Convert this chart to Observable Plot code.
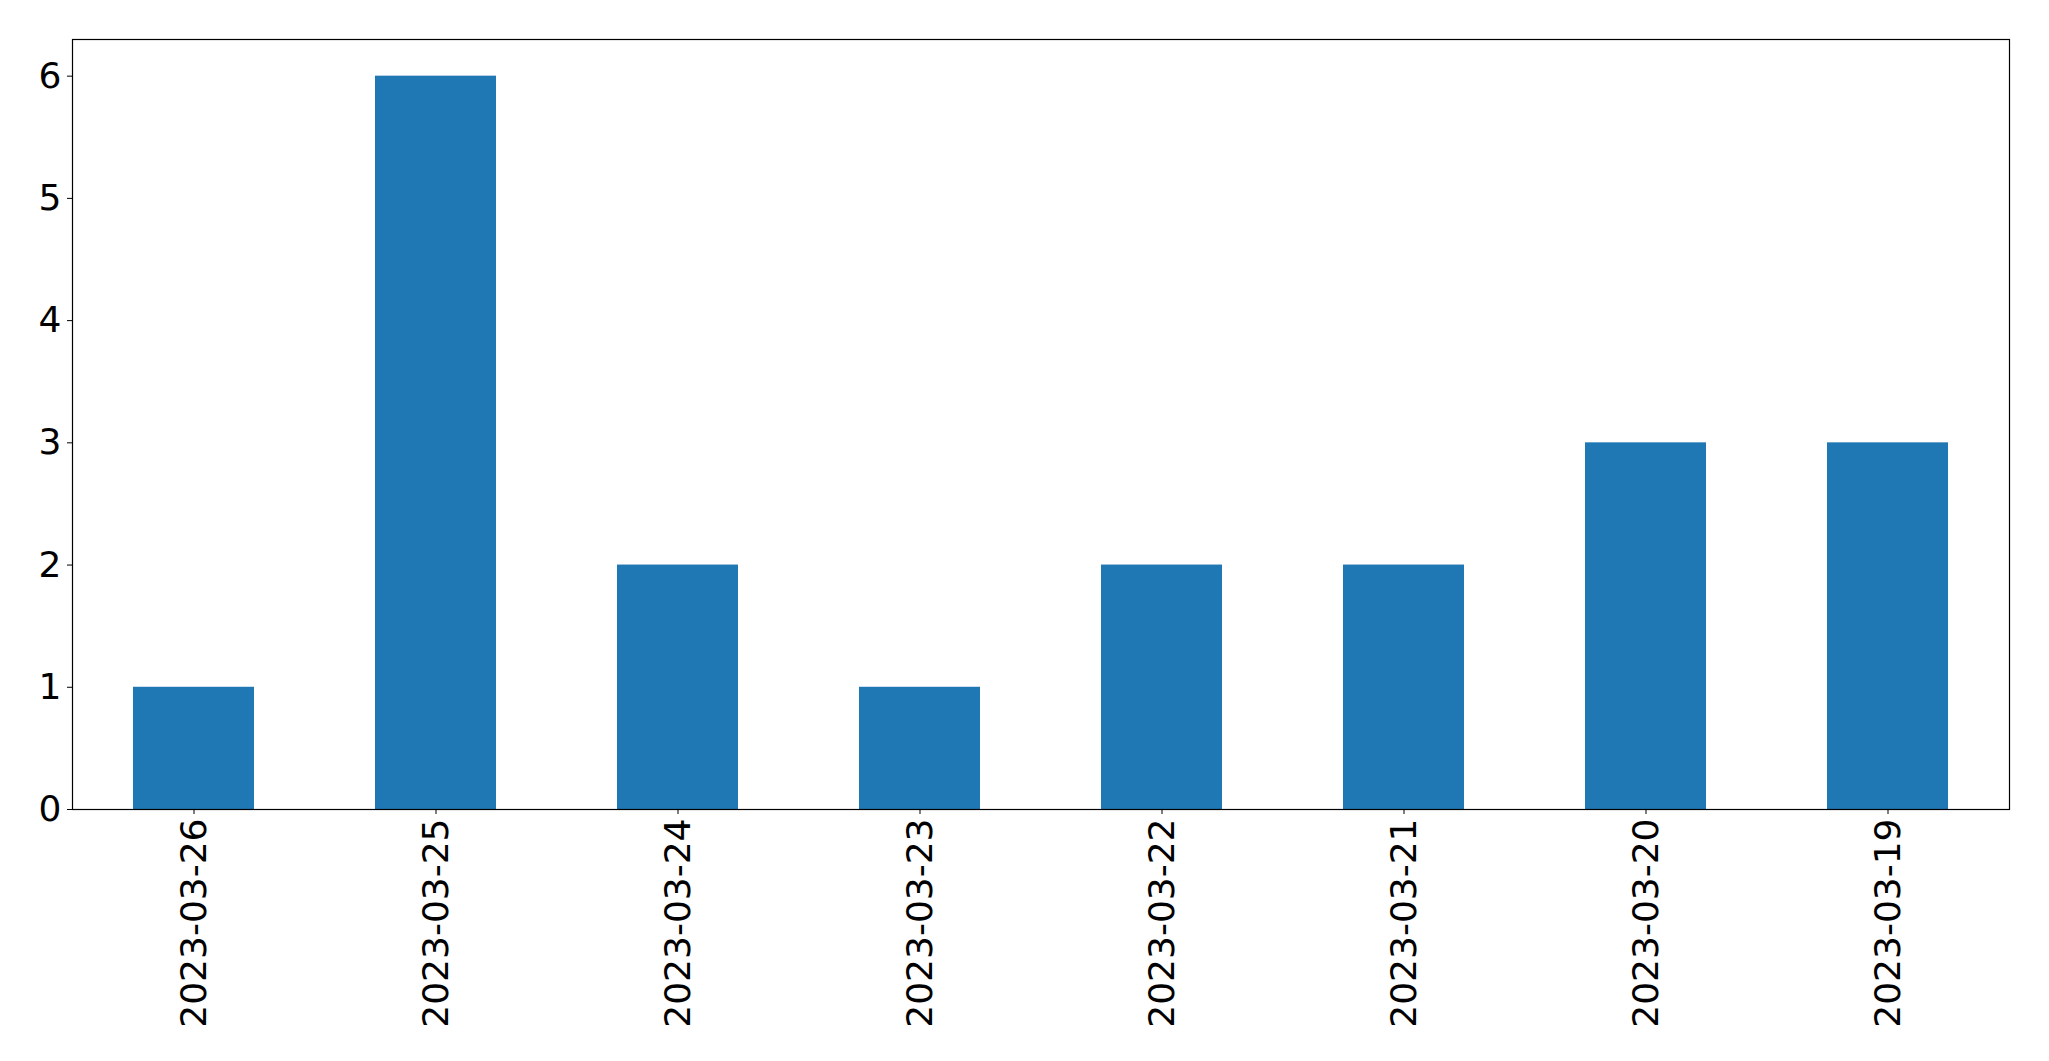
<!DOCTYPE html>
<html>
<head>
<meta charset="utf-8">
<script src="https://cdn.jsdelivr.net/npm/d3@7"></script>
<script src="https://cdn.jsdelivr.net/npm/@observablehq/plot@0.6"></script>
<style>
  html, body { margin: 0; padding: 0; background: #fff; }
  #chart svg { display: block; }
</style>
</head>
<body>
<div id="chart"></div>
<script>
const dates = ["2023-03-26", "2023-03-25", "2023-03-24", "2023-03-23", "2023-03-22", "2023-03-21", "2023-03-20", "2023-03-19"];
const counts = [1, 6, 2, 1, 2, 2, 3, 3];
const yTicks = [0, 1, 2, 3, 4, 5, 6];

const data = dates.map((d, i) => ({date: d, count: counts[i]}));

const chart = Plot.plot({
  width: 2049,
  height: 1061,
  marginLeft: 72,
  marginTop: 39,
  marginRight: 40,
  marginBottom: 252,
  style: {fontFamily: "'DejaVu Sans', sans-serif", fontSize: "36px", color: "#000", background: "#fff"},
  x: {domain: dates, paddingInner: 0.5, paddingOuter: 0.25, label: null, tickRotate: -90, tickSize: 5, tickPadding: 4},
  y: {domain: [0, 6.3], ticks: yTicks, label: null, tickSize: 5, tickPadding: 6, tickFormat: d3.format("d")},
  marks: [
    Plot.barY(data, {x: "date", y: "count", fill: "#1f77b4"}),
    Plot.frame({stroke: "#000", strokeWidth: 1.2})
  ]
});
document.getElementById("chart").appendChild(chart);
</script>
</body>
</html>
